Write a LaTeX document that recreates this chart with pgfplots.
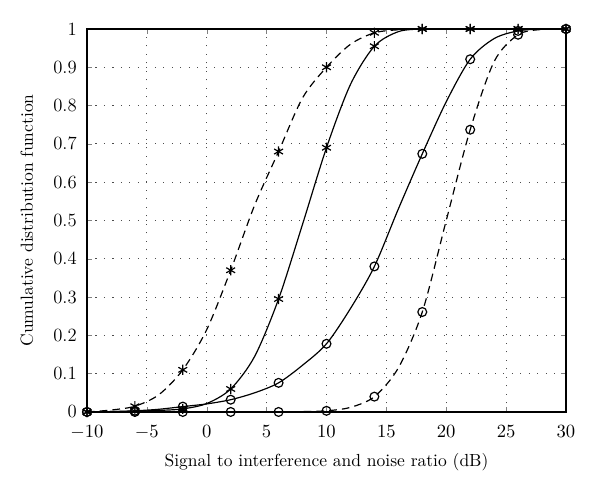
\documentclass[border=0pt]{standalone}
\usepackage{pgfplots}
\pgfplotsset{compat=1.18}
\begin{document}
\begin{tikzpicture}
\begin{axis}[
  scale only axis,
  width=281.8pt, height=225.3pt,
  xmin=-10, xmax=30, ymin=0, ymax=1,
  xtick={-10,-5,...,30},
  ytick={0,0.1,...,1},
  yticklabels={0,0.1,0.2,0.3,0.4,0.5,0.6,0.7,0.8,0.9,1},
  tick label style={font=\fontsize{11}{13}\selectfont},
  label style={font=\fontsize{10.3}{12}\selectfont},
  xticklabel style={yshift=-4.5pt},
  yticklabel style={xshift=-2.5pt},
  tick align=inside,
  tick pos=both,
  major tick length=3pt,
  grid=major,
  major grid style={line width=0.6pt, dash pattern=on 0.6pt off 4.4pt, black!70},
  axis line style={line width=0.8pt},
  xlabel={Signal to interference and noise ratio (dB)},
  ylabel={Cumulative distribution function},
  xlabel style={yshift=-1.3pt},
  ylabel style={yshift=5pt},
  clip=false,
  every axis plot/.append style={line width=0.7pt, black, smooth, mark repeat=2},
]
% A: dashed, asterisks
\addplot[black, dash pattern=on 4.5pt off 3pt, mark=asterisk, mark size=3pt, mark options={solid, black, line width=0.7pt}] coordinates {
(-10,0) (-8,0.005) (-6,0.015) (-4,0.045) (-2,0.11) (0,0.215) (2,0.37) (4,0.54) (6,0.68) (8,0.82) (10,0.90) (12,0.96) (14,0.99) (16,0.998) (18,1) (20,1) (22,1) (24,1) (26,1) (28,1) (30,1)};
% B: solid, asterisks
\addplot[black, solid, mark=asterisk, mark size=3pt, mark options={solid, black, line width=0.7pt}] coordinates {
(-10,0) (-8,0.001) (-6,0.002) (-4,0.004) (-2,0.008) (0,0.022) (2,0.06) (4,0.145) (6,0.295) (8,0.49) (10,0.69) (12,0.855) (14,0.955) (16,0.993) (18,1) (20,1) (22,1) (24,1) (26,1) (28,1) (30,1)};
% C: solid, circles
\addplot[black, solid, mark=o, mark size=2.6pt, mark options={solid, black, line width=0.7pt}] coordinates {
(-10,0) (-8,0.001) (-6,0.003) (-4,0.007) (-2,0.014) (0,0.021) (2,0.032) (4,0.05) (6,0.076) (8,0.122) (10,0.178) (12,0.27) (14,0.38) (16,0.53) (18,0.674) (20,0.81) (22,0.921) (24,0.975) (26,0.995) (28,1) (30,1)};
% D: dashed, circles
\addplot[black, dash pattern=on 4.5pt off 3pt, mark=o, mark size=2.6pt, mark options={solid, black, line width=0.7pt}] coordinates {
(-10,0) (-8,0) (-6,0) (-4,0) (-2,0) (0,0) (2,0) (4,0) (6,0) (8,0.001) (10,0.003) (12,0.012) (14,0.04) (16,0.115) (18,0.261) (20,0.5) (22,0.737) (24,0.915) (26,0.985) (28,0.999) (30,1)};
\path (rel axis cs:-0.1816,-0.2115) rectangle (rel axis cs:1.0710,1.0757);
\end{axis}
\end{tikzpicture}
\end{document}
